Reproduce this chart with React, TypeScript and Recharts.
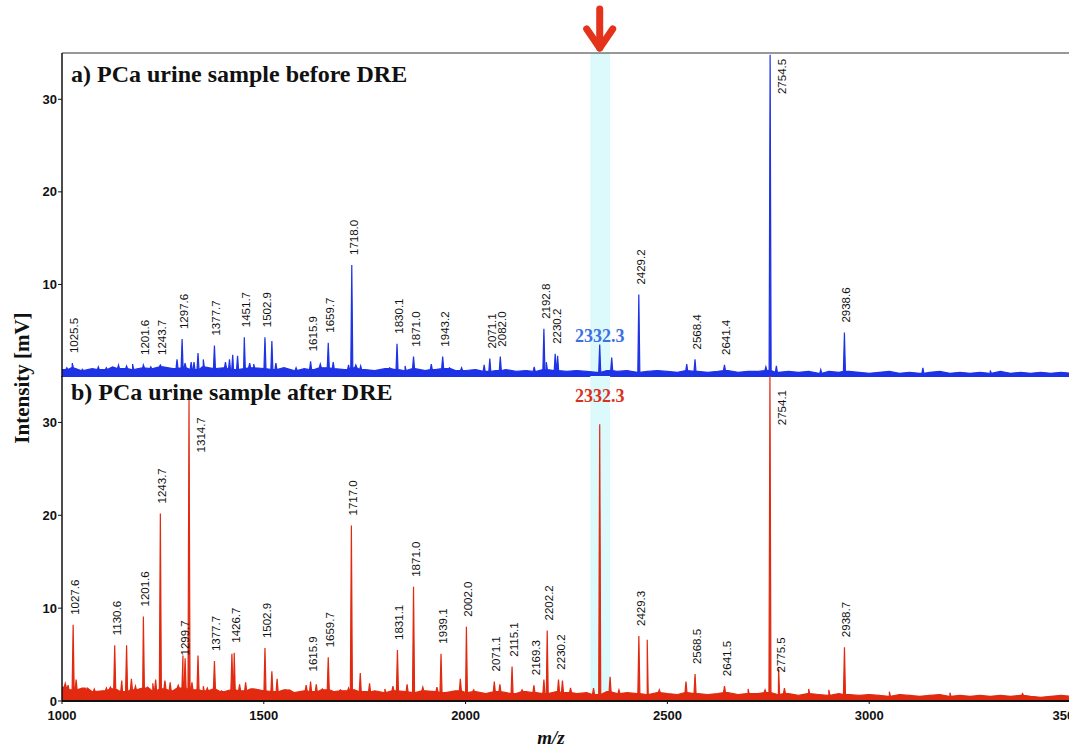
import React from "react";
import {
  Area,
  ComposedChart,
  ReferenceArea,
  ReferenceDot,
  ReferenceLine,
  Scatter,
  XAxis,
  YAxis,
} from "recharts";

const MZ_MIN = 1000;
const MZ_MAX = 3500;
const X_TICKS = [1000, 1500, 2000, 2500, 3000, 3500];
const Y_TICKS = [0, 10, 20, 30];
const HOT_LABEL = "2332.3";

// baseline noise level, one value every 25 m/z from 1000 to 3500
const BASE_START = 1000;
const BASE_STEP = 25;

const BEFORE_BASE = [
  0.8, 1.0, 0.7, 0.9, 0.8, 1.1, 0.9, 0.8, 1.0, 0.9,
  1.1, 0.9, 1.0, 0.8, 1.1, 0.9, 1.0, 0.8, 0.9, 1.0,
  0.9, 0.8, 1.0, 0.7, 0.9, 0.8, 1.0, 0.9, 0.8, 1.0,
  0.8, 0.7, 0.9, 0.8, 0.7, 0.9, 0.7, 0.8, 0.9, 0.7,
  0.7, 0.8, 0.6, 0.7, 0.8, 0.6, 0.7, 0.6, 0.8, 0.7,
  0.6, 0.7, 0.6, 0.5, 0.7, 0.6, 0.7, 0.5, 0.6, 0.7,
  0.6, 0.5, 0.7, 0.6, 0.5, 0.6, 0.7, 0.5, 0.6, 0.6,
  0.7, 0.5, 0.6, 0.5, 0.6, 0.4, 0.6, 0.5, 0.6, 0.5,
  0.4, 0.5, 0.6, 0.4, 0.5, 0.4, 0.5, 0.6, 0.4, 0.5,
  0.4, 0.5, 0.4, 0.6, 0.4, 0.5, 0.4, 0.5, 0.4, 0.5,
  0.4,
];

const AFTER_BASE = [
  1.5, 1.2, 1.4, 1.0, 1.1, 1.3, 1.0, 1.2, 1.4, 1.1,
  1.3, 1.1, 1.4, 1.2, 1.1, 1.3, 1.0, 1.2, 1.1, 1.3,
  1.1, 1.0, 1.2, 0.9, 1.1, 1.0, 1.2, 1.0, 1.1, 1.2,
  1.0, 1.1, 0.9, 1.1, 1.0, 0.9, 1.1, 1.0, 0.9, 1.1,
  0.9, 1.0, 0.8, 1.0, 0.9, 0.8, 1.0, 0.9, 0.8, 1.0,
  0.9, 0.8, 0.9, 0.7, 1.0, 0.8, 0.9, 0.8, 0.7, 0.9,
  0.8, 0.7, 0.9, 0.8, 0.7, 0.8, 0.9, 0.7, 0.8, 0.8,
  0.9, 0.7, 0.8, 0.6, 0.8, 0.7, 0.6, 0.8, 0.7, 0.6,
  0.7, 0.6, 0.5, 0.7, 0.6, 0.5, 0.6, 0.7, 0.5, 0.6,
  0.5, 0.6, 0.5, 0.6, 0.5, 0.6, 0.5, 0.4, 0.5, 0.6,
  0.5,
];

// labelled peaks [m/z position, intensity mV, printed label when it differs]
const BEFORE_PEAKS: [number, number, string?][] = [
  [1025.5, 1.5], [1201.6, 1.3], [1243.7, 1.3], [1297.6, 4.1], [1377.7, 3.4],
  [1451.7, 4.3], [1502.9, 4.3], [1615.9, 1.7], [1659.7, 3.7], [1718.0, 12.1],
  [1830.1, 3.6], [1871.0, 2.2], [1943.2, 2.2], [2060, 2.0, "2071.1"], [2086, 2.2, "2082.0"],
  [2194, 5.2, "2192.8"], [2222, 2.5, "2230.2"], [2332.3, 3.5], [2429.2, 8.9], [2568.4, 1.9],
  [2641.4, 1.3], [2754.5, 34.8], [2938.6, 4.8],
];

const AFTER_PEAKS: [number, number, string?][] = [
  [1027.6, 8.2], [1130.6, 6.0], [1201.6, 9.1], [1243.7, 20.2], [1299.7, 4.9],
  [1314.7, 32.5], [1377.7, 4.3], [1426.7, 5.2], [1502.9, 5.7], [1615.9, 2.1],
  [1659.7, 4.7], [1717.0, 18.9], [1831.1, 5.5], [1871.0, 12.3], [1939.1, 5.1],
  [2002.0, 8.0], [2071.1, 2.1], [2115.1, 3.7], [2169.3, 1.7], [2202.2, 7.6],
  [2230.2, 2.3], [2332.3, 29.8], [2429.3, 7.0], [2568.5, 2.9], [2641.5, 1.6],
  [2754.1, 35.0], [2775.5, 3.5], [2938.7, 5.8],
];

// smaller unlabelled peaks
const BEFORE_MINOR: [number, number][] = [
  [1012, 1.0], [1050, 0.9], [1090, 1.1], [1110, 1.0], [1140, 1.3], [1160, 1.2],
  [1175, 1.4], [1220, 1.1], [1285, 1.9], [1305, 1.5], [1320, 1.6], [1327, 1.6],
  [1337, 2.6], [1350, 1.9], [1405, 1.6], [1415, 1.9], [1423, 2.4], [1435, 2.3],
  [1465, 1.5], [1475, 1.4], [1520, 3.9], [1530, 1.5], [1580, 1.0], [1640, 1.4],
  [1672, 1.6], [1710, 1.3], [1728, 1.3], [1740, 1.2], [1812, 1.0], [1850, 1.2],
  [1915, 1.4], [1960, 1.0], [1990, 1.0], [2046, 1.3], [2170, 1.1], [2200, 1.6],
  [2228, 2.3], [2362, 2.1], [2548, 1.4], [2744, 1.1], [2770, 1.2], [2880, 0.8],
  [3133, 1.0], [3300, 0.7],
];

const AFTER_MINOR: [number, number][] = [
  [1008, 1.9], [1015, 1.7], [1035, 2.3], [1060, 1.1], [1080, 1.3], [1110, 1.4],
  [1120, 1.5], [1148, 2.2], [1160, 6.0], [1172, 2.4], [1182, 1.6], [1212, 1.5],
  [1225, 1.9], [1232, 2.3], [1255, 2.2], [1268, 2.0], [1288, 1.7], [1305, 4.6],
  [1322, 2.0], [1337, 4.9], [1350, 1.6], [1360, 1.4], [1395, 1.1], [1421, 5.1],
  [1440, 1.8], [1455, 2.0], [1470, 1.3], [1520, 3.2], [1533, 2.4], [1560, 1.1],
  [1605, 1.7], [1630, 1.8], [1645, 1.3], [1690, 1.2], [1710, 1.4], [1739, 3.0],
  [1762, 1.9], [1800, 1.3], [1820, 1.6], [1855, 1.8], [1894, 1.5], [1929, 1.5],
  [1987, 2.4], [2020, 1.2], [2085, 1.8], [2140, 1.2], [2194, 2.3], [2240, 2.2],
  [2260, 1.4], [2317, 1.4], [2358, 2.6], [2380, 1.2], [2450, 6.6], [2480, 1.2],
  [2546, 2.1], [2700, 1.3], [2742, 1.2], [2790, 1.4], [2850, 1.3], [2900, 1.2],
  [3050, 1.0], [3200, 0.9], [3380, 0.8],
];

const BLUE = "#1e33e6";
const RED = "#e12a10";
const SERIF = "'Liberation Serif', 'Times New Roman', serif";
const SANS = "'Liberation Sans', Arial, sans-serif";

// labels that sit to the right of the peak, top at cy + offset
const RIGHT_LABELS: Record<string, number> = { "2754.5": 4, "1314.7": 18, "2754.1": 14 };
// labels with a non-default gap above the peak
const LABEL_GAP: Record<string, number> = { "1299.7": 0, "2775.5": -4 };

function buildSpectrum(base: number[], peaks: [number, number, string?][], minor: [number, number][]) {
  const pts = base.map((v, i) => ({ mz: BASE_START + i * BASE_STEP, v }));
  const foot = (mz: number) => base[Math.round((mz - BASE_START) / BASE_STEP)];
  [...peaks, ...minor].forEach(([mz, h]) => {
    const f = foot(mz);
    pts.push({ mz: mz - 2.5, v: f }, { mz, v: h }, { mz: mz + 2.5, v: f });
  });
  return pts.sort((a, b) => a.mz - b.mz);
}

interface PanelProps {
  height: number;
  bottom: number;
  base: number[];
  peaks: [number, number, string?][];
  minor: [number, number][];
  color: string;
  hotColor: string;
  hotGap: number;
  showX: boolean;
  frameTop: boolean;
  arrow: boolean;
}

function Panel(p: PanelProps) {
  const data = buildSpectrum(p.base, p.peaks, p.minor);
  const labels = p.peaks.map(([mz, h, t]) => ({ mz, v: h, text: t ?? mz.toFixed(1) }));
  const hotMz = p.peaks.find(([mz]) => mz.toFixed(1) === HOT_LABEL)![0];

  const renderLabel = (props: any) => {
    const { cx, cy, payload } = props;
    if (cx == null || cy == null) return <g />;
    if (payload.text === HOT_LABEL) {
      return (
        <text
          x={cx}
          y={cy - p.hotGap}
          textAnchor="middle"
          fill={p.hotColor}
          fontFamily={SERIF}
          fontWeight="bold"
          fontSize={18}
        >
          {payload.text}
        </text>
      );
    }
    const right = RIGHT_LABELS[payload.text];
    if (right !== undefined) {
      const x = cx + 16;
      const y = cy + right;
      return (
        <text x={x} y={y} transform={`rotate(-90 ${x} ${y})`} textAnchor="end" fontFamily={SANS} fontSize={11.5} fill="#111">
          {payload.text}
        </text>
      );
    }
    const gap = LABEL_GAP[payload.text] ?? 10;
    const x = cx + 6;
    const y = cy - gap;
    return (
      <text x={x} y={y} transform={`rotate(-90 ${x} ${y})`} textAnchor="start" fontFamily={SANS} fontSize={11.5} fill="#111">
        {payload.text}
      </text>
    );
  };

  return (
    <ComposedChart
      width={1080}
      height={p.height}
      data={data}
      margin={{ top: p.frameTop ? 53 : 0, right: 9, left: 0, bottom: p.bottom }}
    >
      <XAxis
        dataKey="mz"
        type="number"
        domain={[MZ_MIN, MZ_MAX]}
        ticks={X_TICKS}
        allowDataOverflow
        height={p.showX ? 30 : 0}
        tick={p.showX ? { fontSize: 13, fontWeight: "bold", fill: "#111", fontFamily: SANS } : false}
        tickLine={p.showX ? { stroke: "#111" } : false}
        tickSize={3}
        tickMargin={7}
        axisLine={{ stroke: "#111", strokeWidth: p.showX ? 2 : 1.5 }}
      />
      <YAxis
        type="number"
        domain={[0, 35]}
        ticks={Y_TICKS}
        allowDataOverflow
        width={62}
        tick={{ fontSize: 13, fontWeight: "bold", fill: "#111", fontFamily: SANS }}
        tickLine={{ stroke: "#111" }}
        tickSize={4}
        tickMargin={1}
        axisLine={{ stroke: "#111", strokeWidth: 1.5 }}
      />
      <ReferenceArea x1={2309} x2={2358} fill="#dcf9fc" fillOpacity={1} stroke="none" />
      {p.frameTop && <ReferenceLine y={35} stroke="#333" strokeWidth={1} />}
      <Area
        type="linear"
        dataKey="v"
        stroke={p.color}
        strokeWidth={1.2}
        fill={p.color}
        fillOpacity={1}
        baseValue={0}
        dot={false}
        activeDot={false}
        isAnimationActive={false}
      />
      <Scatter data={labels} dataKey="v" shape={renderLabel} isAnimationActive={false} />
      {p.arrow && (
        <ReferenceDot
          x={hotMz}
          y={35}
          r={0}
          ifOverflow="visible"
          shape={(s: any) => (
            <g stroke="#e5321a" strokeWidth={7} strokeLinecap="round" strokeLinejoin="round" fill="none">
              <line x1={s.cx} y1={s.cy - 44} x2={s.cx} y2={s.cy - 5} />
              <polyline points={`${s.cx - 13},${s.cy - 24} ${s.cx},${s.cy - 5} ${s.cx + 13},${s.cy - 24}`} />
            </g>
          )}
        />
      )}
    </ComposedChart>
  );
}

export default function App() {
  return (
    <div style={{ position: "absolute", left: 0, top: 0, width: 1069, height: 748, overflow: "hidden", background: "#fff" }}>
      <div style={{ position: "absolute", left: 0, top: 0 }}>
        <Panel
          height={377}
          bottom={0}
          base={BEFORE_BASE}
          peaks={BEFORE_PEAKS}
          minor={BEFORE_MINOR}
          color={BLUE}
          hotColor="#3d6fe3"
          hotGap={3}
          showX={false}
          frameTop
          arrow
        />
      </div>
      <div style={{ position: "absolute", left: 0, top: 376 }}>
        <Panel
          height={372}
          bottom={17}
          base={AFTER_BASE}
          peaks={AFTER_PEAKS}
          minor={AFTER_MINOR}
          color={RED}
          hotColor="#d8321c"
          hotGap={22}
          showX
          frameTop={false}
          arrow={false}
        />
      </div>
      <div style={{ position: "absolute", left: 71, top: 61, fontFamily: SERIF, fontWeight: "bold", fontSize: 24, color: "#111", whiteSpace: "nowrap" }}>
        a) PCa urine sample before DRE
      </div>
      <div style={{ position: "absolute", left: 71, top: 379, fontFamily: SERIF, fontWeight: "bold", fontSize: 24, color: "#111", whiteSpace: "nowrap" }}>
        b) PCa urine sample after DRE
      </div>
      <div
        style={{
          position: "absolute",
          left: 22,
          top: 378,
          transform: "translate(-50%, -50%) rotate(-90deg)",
          fontFamily: SERIF,
          fontWeight: "bold",
          fontSize: 21,
          color: "#111",
          whiteSpace: "nowrap",
        }}
      >
        Intensity [mV]
      </div>
      <div
        style={{
          position: "absolute",
          left: 551,
          top: 738,
          transform: "translate(-50%, -50%)",
          fontFamily: SERIF,
          fontWeight: "bold",
          fontStyle: "italic",
          fontSize: 19,
          color: "#111",
          whiteSpace: "nowrap",
        }}
      >
        m/z
      </div>
    </div>
  );
}
